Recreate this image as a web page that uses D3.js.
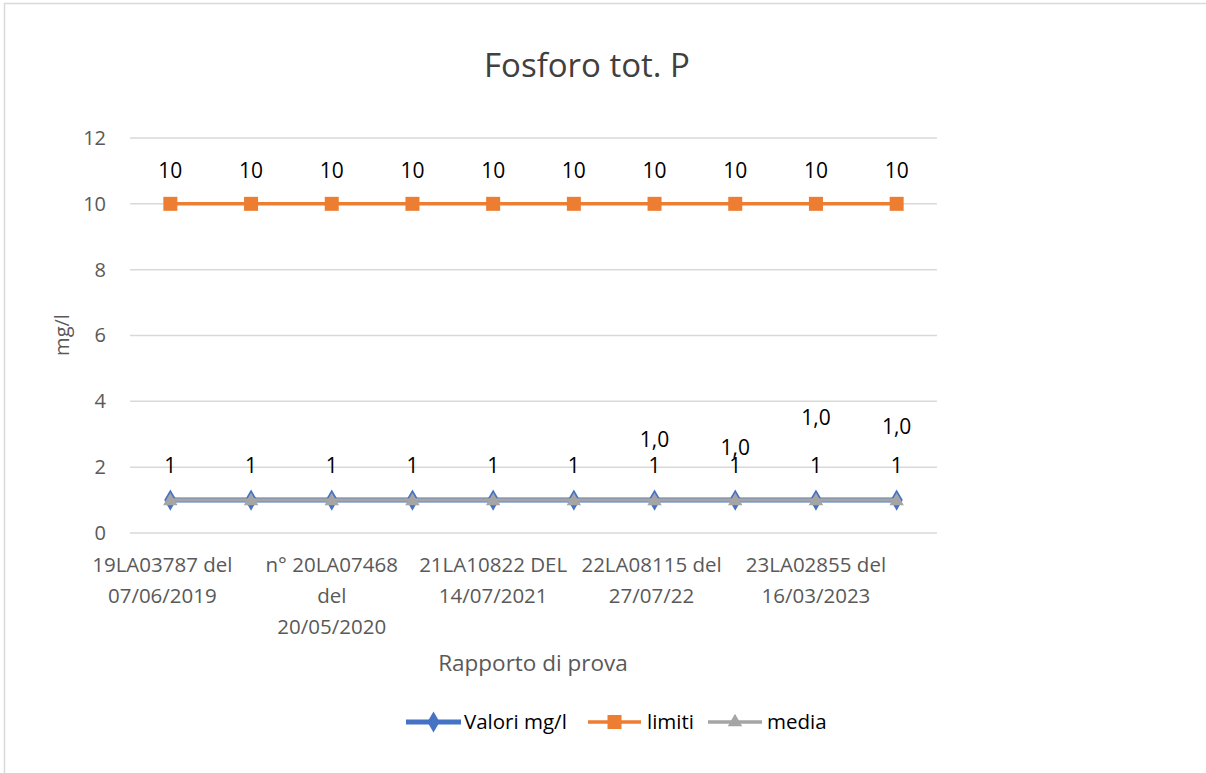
<!DOCTYPE html>
<html>
<head>
<meta charset="utf-8">
<script src="https://cdn.jsdelivr.net/npm/d3@7"></script>
<style>
  html, body { margin: 0; padding: 0; background: #fff; overflow: hidden; }
  svg { display: block; font-family: "Open Sans", sans-serif; }
</style>
</head>
<body>
<svg id="chart" width="1206" height="773"></svg>
<script>
// ---- data ----
const categories = ["19LA03787 del 07/06/2019", "c2", "n° 20LA07468 del 20/05/2020", "c4",
  "21LA10822 DEL 14/07/2021", "c6", "22LA08115 del 27/07/22", "c8", "23LA02855 del 16/03/2023", "c10"];
const tickLabels = [
  ["19LA03787 del", "07/06/2019"],
  null,
  ["n° 20LA07468", "del", "20/05/2020"],
  null,
  ["21LA10822 DEL", "14/07/2021"],
  null,
  ["22LA08115 del", "27/07/22"],
  null,
  ["23LA02855 del", "16/03/2023"],
  null
];
const valori = [1, 1, 1, 1, 1, 1, 1, 1, 1, 1];
const limiti = [10, 10, 10, 10, 10, 10, 10, 10, 10, 10];
const media  = [1, 1, 1, 1, 1, 1, 1, 1, 1, 1];
const mediaLabels = [null, null, null, null, null, null, "1,0", "1,0", "1,0", "1,0"];
const yTicks = [0, 2, 4, 6, 8, 10, 12];

// ---- layout ----
const mediaLabelDy = [0, 0, 0, 0, 0, 0, -60, -52, -82, -73];
const tickLabelDx = [-8, 0, 0, 0, 0, 0, -3, 0, 0, 0];
const svg = d3.select("#chart");
const plot = { left: 130, right: 937, top: 138, bottom: 533 };
const C = { blue: "#4472C4", orange: "#ED7D31", gray: "#A5A5A5", grid: "#D9D9D9", axisText: "#595959" };

// chart border (top and left edges visible)
svg.append("path").attr("d", "M4.5,773 L4.5,3.5 L1206,3.5")
  .attr("fill", "none").attr("stroke", "#D9D9D9").attr("stroke-width", 1.5);

const x = d3.scalePoint().domain(d3.range(categories.length)).range([plot.left, plot.right]).padding(0.5);
const y = d3.scaleLinear().domain([0, 12]).range([plot.bottom, plot.top]);

// gridlines
svg.append("g").selectAll("line").data(yTicks).join("line")
  .attr("x1", plot.left).attr("x2", plot.right)
  .attr("y1", d => y(d)).attr("y2", d => y(d))
  .attr("stroke", C.grid).attr("stroke-width", 1.5);

// y axis labels
const yAxis = d3.axisLeft(y).tickValues(yTicks).tickSize(0).tickPadding(0).tickFormat(d3.format("d"));
const yg = svg.append("g").attr("transform", `translate(${plot.left - 24},0)`).call(yAxis);
yg.select(".domain").remove();
yg.selectAll("text").attr("font-size", 20).attr("fill", C.axisText).attr("font-family", "Open Sans");

// x axis category labels
const xg = svg.append("g");
tickLabels.forEach((lines, i) => {
  if (!lines) return;
  const t = xg.append("text").attr("text-anchor", "middle").attr("font-size", 20.5).attr("fill", C.axisText);
  lines.forEach((ln, j) => {
    t.append("tspan").attr("x", x(i) + tickLabelDx[i]).attr("y", 572 + j * 31).text(ln);
  });
});

// titles
svg.append("text").attr("x", 587).attr("y", 77).attr("text-anchor", "middle")
  .attr("font-size", 33).attr("fill", "#404040").text("Fosforo tot. P");
svg.append("text").attr("x", 533).attr("y", 671).attr("text-anchor", "middle")
  .attr("font-size", 22.5).attr("fill", C.axisText).text("Rapporto di prova");
svg.append("text").attr("transform", "translate(69,335) rotate(-90)").attr("text-anchor", "middle")
  .attr("font-size", 20).attr("fill", C.axisText).text("mg/l");

const line = d3.line().x((d, i) => x(i)).y(d => y(d));

// series: valori
svg.append("path").datum(valori).attr("d", line).attr("fill", "none").attr("stroke", C.blue).attr("stroke-width", 5);
svg.append("g").selectAll("path").data(valori).join("path")
  .attr("transform", (d, i) => `translate(${x(i)},${y(d)})`)
  .attr("d", d3.symbol(d3.symbolDiamond, 130)).attr("fill", C.blue);

// series: limiti
svg.append("path").datum(limiti).attr("d", line).attr("fill", "none").attr("stroke", C.orange).attr("stroke-width", 3.5);
svg.append("g").selectAll("rect").data(limiti).join("rect")
  .attr("x", (d, i) => x(i) - 7).attr("y", d => y(d) - 7).attr("width", 14).attr("height", 14)
  .attr("fill", C.orange);

// series: media
svg.append("path").datum(media).attr("d", line).attr("fill", "none").attr("stroke", C.gray).attr("stroke-width", 3.5);
svg.append("g").selectAll("path").data(media).join("path")
  .attr("transform", (d, i) => `translate(${x(i)},${y(d) + 1})`)
  .attr("d", d3.symbol(d3.symbolTriangle, 90)).attr("fill", C.gray);

// data labels
const lbl = svg.append("g").attr("font-size", 21).attr("fill", "#000").attr("text-anchor", "middle");
lbl.selectAll(".lim").data(limiti).join("text")
  .attr("x", (d, i) => x(i)).attr("y", d => y(d) - 33).attr("dy", "0.35em").text(d => d3.format("d")(d));
lbl.selectAll(".val").data(valori).join("text")
  .attr("x", (d, i) => x(i)).attr("y", d => y(d) - 34).attr("dy", "0.35em").text(d => d3.format("d")(d));
lbl.selectAll(".med").data(media.map((d, i) => ({ v: d, i, t: mediaLabels[i] })).filter(d => d.t)).join("text")
  .attr("x", d => x(d.i)).attr("y", d => y(d.v) + mediaLabelDy[d.i]).attr("dy", "0.35em").text(d => d.t);

// legend
const legend = [
  { name: "Valori mg/l", color: C.blue, x1: 406, x2: 461, tx: 464, sym: "diamond", w: 5 },
  { name: "limiti", color: C.orange, x1: 588, x2: 641, tx: 647, sym: "square", w: 3.5 },
  { name: "media", color: C.gray, x1: 708, x2: 762, tx: 767, sym: "triangle", w: 3.5 }
];
const ly = 722;
const lg = svg.append("g");
legend.forEach(L => {
  lg.append("line").attr("x1", L.x1).attr("x2", L.x2).attr("y1", ly).attr("y2", ly)
    .attr("stroke", L.color).attr("stroke-width", L.w);
  const cx = (L.x1 + L.x2) / 2;
  if (L.sym === "square") {
    lg.append("rect").attr("x", cx - 7).attr("y", ly - 7).attr("width", 14).attr("height", 14).attr("fill", L.color);
  } else {
    const s = L.sym === "diamond" ? d3.symbolDiamond : d3.symbolTriangle;
    lg.append("path").attr("transform", `translate(${cx},${ly})`)
      .attr("d", d3.symbol(s, L.sym === "diamond" ? 130 : 90)).attr("fill", L.color);
  }
  lg.append("text").attr("x", L.tx).attr("y", ly).attr("dy", "0.35em").attr("font-size", 20.5)
    .attr("fill", "#000").text(L.name);
});
</script>
</body>
</html>
